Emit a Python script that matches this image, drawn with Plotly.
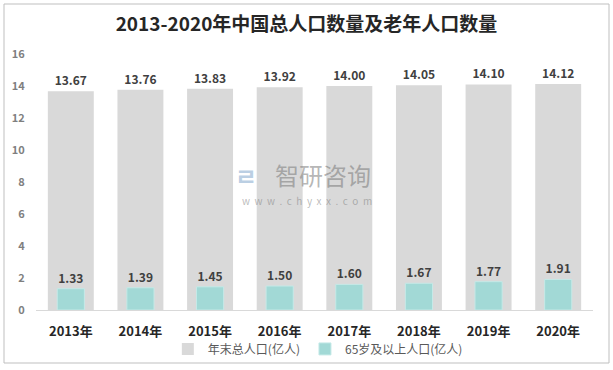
import plotly.graph_objects as go

years = ["2013年", "2014年", "2015年", "2016年", "2017年", "2018年", "2019年", "2020年"]
total_pop = [13.67, 13.76, 13.83, 13.92, 14.00, 14.05, 14.10, 14.12]
elderly_pop = [1.33, 1.39, 1.45, 1.50, 1.60, 1.67, 1.77, 1.91]
series_names = ["年末总人口(亿人)", "65岁及以上人口(亿人)"]
y_ticks = [0, 2, 4, 6, 8, 10, 12, 14, 16]

FONT = "Noto Sans CJK SC"

fig = go.Figure()
fig.add_trace(go.Bar(
    x=years, y=total_pop, name=series_names[0], width=0.66,
    marker=dict(color="#D9D9D9", line=dict(width=0)),
    text=[f"{v:.2f}" for v in total_pop], textposition="outside",
    textfont=dict(family=FONT, size=12, color="#404040", weight="bold"),
    cliponaxis=False,
))
fig.add_trace(go.Bar(
    x=years, y=elderly_pop, name=series_names[1], width=0.39,
    marker=dict(color="#A2D9D6", line=dict(width=1, color="#C5E9E7")),
    text=[f"{v:.2f}" for v in elderly_pop], textposition="outside",
    textfont=dict(family=FONT, size=12, color="#404040", weight="bold"),
    cliponaxis=False,
))

fig.update_layout(
    width=613, height=370,
    margin=dict(l=36, r=20, t=54, b=60, autoexpand=False),
    paper_bgcolor="white", plot_bgcolor="white",
    barmode="overlay",
    title=dict(text="<b>2013-2020年中国总人口数量及老年人口数量</b>",
               x=0.5, xanchor="center", y=0.935, yanchor="middle",
               font=dict(family=FONT, size=19, color="#262626")),
    showlegend=True,
    legend=dict(orientation="h", x=0.506, xanchor="center", y=-0.152, yanchor="middle",
                bgcolor="rgba(0,0,0,0)",
                font=dict(family=FONT, size=12, color="#595959"),
                itemwidth=30, tracegroupgap=0, traceorder="normal"),
    xaxis=dict(showline=True, linecolor="#D9D9D9", linewidth=1, automargin=False,
               ticks="outside", ticklen=9, tickcolor="rgba(0,0,0,0)",
               tickfont=dict(family=FONT, size=13, color="#262626", weight="bold"),
               showgrid=False),
    yaxis=dict(range=[0, 16], tickvals=y_ticks, showgrid=False, zeroline=False, automargin=False,
               showline=False, ticks="outside", ticklen=8, tickcolor="rgba(0,0,0,0)",
               tickfont=dict(family=FONT, size=11, color="#7F7F7F", weight="bold")),
    shapes=[dict(type="rect", xref="paper", yref="paper",
                 x0=(4 - 36) / 557, x1=(609 - 36) / 557,
                 y0=(310 - 363) / 256, y1=(310 - 4) / 256,
                 line=dict(color="#BFBFBF", width=1), fillcolor="rgba(0,0,0,0)", layer="below")],
    annotations=[
        dict(text="智研咨询", xref="paper", yref="paper",
             x=(323 - 36) / 557, y=(310 - 174) / 256, showarrow=False,
             font=dict(family=FONT, size=24, color="rgba(120,120,120,0.55)")),
        dict(text="w  w  w  .  c  h  y  x  x  .  c  o  m", xref="paper", yref="paper",
             x=(307 - 36) / 557, y=(310 - 200) / 256, showarrow=False,
             font=dict(family=FONT, size=10, color="rgba(130,130,130,0.55)")),
        dict(text="<b>ㄹ</b>", xref="paper", yref="paper",
             x=(246 - 36) / 557, y=(310 - 175) / 256, showarrow=False,
             font=dict(family=FONT, size=24, color="rgba(120,160,200,0.5)")),
    ],
)

fig.write_html("out.html", config={"displayModeBar": False},
               post_script="document.body.style.margin='0';document.body.style.overflow='hidden';")
